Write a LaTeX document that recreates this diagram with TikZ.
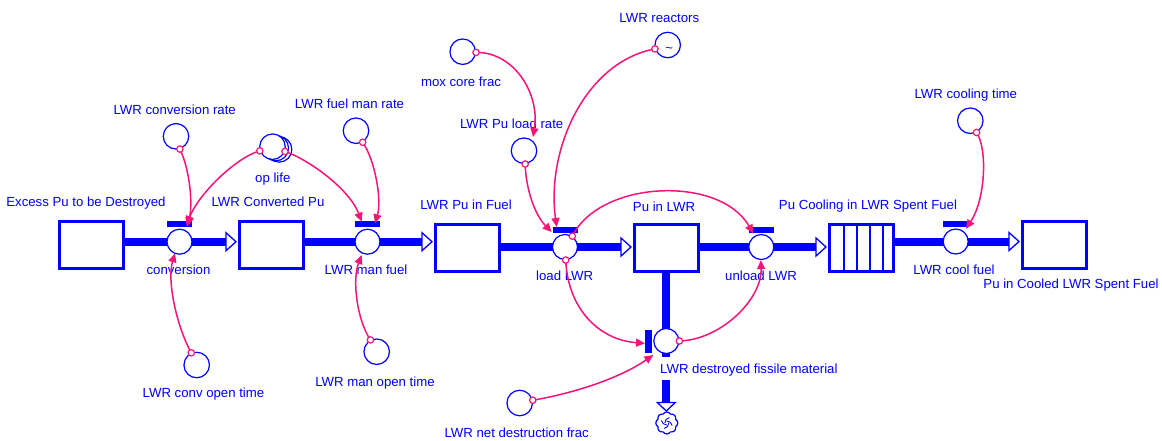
\documentclass[tikz,border=0pt]{standalone}
\usepackage{fontspec}
\setmainfont{Liberation Sans}
\usetikzlibrary{arrows.meta,shapes.symbols,calc}
\definecolor{vblue}{RGB}{0,0,255}
\definecolor{vpink}{RGB}{245,20,120}
\begin{document}
\begin{tikzpicture}[x=1pt,y=-1pt,
  lbl/.style={text=vblue,font=\fontsize{13.2}{15}\selectfont,inner sep=0,anchor=base},
  lblw/.style={text=vblue,font=\fontsize{13.2}{15}\selectfont,inner sep=0,anchor=base west},
  stock/.style={draw=vblue,line width=3,minimum width=64,minimum height=47,inner sep=0,fill=white},
  aux/.style={circle,draw=vblue,line width=1.2,minimum size=25.5,inner sep=0,fill=white},
  valve/.style={circle,draw=vblue,line width=1.2,minimum size=25,inner sep=0,fill=white},
  pipe/.style={draw=vblue,line width=8},
  pipehead/.style={draw=vblue,fill=white,line width=1.3,line join=miter},
  conn/.style={draw=vpink,line width=1.5,-{Triangle[length=9,width=8]}},
  tailc/.style={draw=vpink,line width=1.2,fill=white},
  vbar/.style={fill=vblue}
]
\fill[white] (0,0) rectangle (1162,440);
\useasboundingbox (0,0) rectangle (1162,440);

% stocks
\node[stock] (ex) at (91.5,245) {};
\node[stock] (lcp) at (271,245) {};
\node[stock] (lpf) at (467,247.5) {};
\node[stock] (pil) at (666,247.5) {};
\node[stock] (pcs) at (861,247.5) {};
\node[stock] (pcl) at (1054,245) {};

% valves (coordinates first)
\coordinate (conv) at (179.5,241.7);
\coordinate (manf) at (367.5,241.7);
\coordinate (load) at (565,247);
\coordinate (unload) at (761.3,247);
\coordinate (cool) at (955.7,241.5);
\coordinate (destr) at (666.3,341);

% pipes
\draw[pipe] (ex.east |- conv) -- ([shift={(-11.5,0)}]conv -| lcp.west);
\draw[pipe] (lcp.east |- manf) -- ([shift={(-11.5,0)}]manf -| lpf.west);
\draw[pipe] (lpf.east |- load) -- ([shift={(-11.5,0)}]load -| pil.west);
\draw[pipe] (pil.east |- unload) -- ([shift={(-11.5,0)}]unload -| pcs.west);
\draw[pipe] (pcs.east |- cool) -- ([shift={(-11.5,0)}]cool -| pcl.west);
\draw[pipe] (pil.south -| destr) -- ([shift={(0,16)}]destr);
\draw[pipe] ([shift={(0,39)}]destr) -- ([shift={(0,62)}]destr);

% pipe heads
\foreach \v/\s in {conv/lcp, manf/lpf, load/pil, unload/pcs, cool/pcl}{
  \draw[pipehead] ([shift={(-11.5,-9)}]\v -| \s.west) -- ([shift={(-1.5,0)}]\v -| \s.west) -- ([shift={(-11.5,9)}]\v -| \s.west) -- cycle;
}
\draw[pipehead] ([shift={(-9,61.5)}]destr) -- ([shift={(0,70)}]destr) -- ([shift={(9,61.5)}]destr) -- cycle;

% redraw stocks on top
\node[stock] at (ex) {};
\node[stock] at (lcp) {};
\node[stock] at (lpf) {};
\node[stock] at (pil) {};
\node[stock] at (pcs) {};
\node[stock] at (pcl) {};
\foreach \xx in {-17,-4,9,22}{
  \draw[vblue,line width=2.5] ([shift={(\xx,-23.5)}]pcs.center) -- ([shift={(\xx,23.5)}]pcs.center);
}

% cloud sink
\node[cloud, cloud puffs=8, cloud puff arc=120, aspect=1, draw=vblue, line width=1.2, minimum width=22, minimum height=22, inner sep=0, fill=white] (sink) at (666.8,423) {};
\foreach \a in {0,90,180,270}{
  \draw[vblue,line width=0.9] ([shift={(\a:2)}]sink.center) arc[start angle=\a, end angle=\a+80, radius=5.5];
}

% valve circles
\node[valve] (vconv) at (conv) {};
\node[valve] (vmanf) at (manf) {};
\node[valve] (vload) at (load) {};
\node[valve] (vunload) at (unload) {};
\node[valve] (vcool) at (cool) {};
\node[valve] (vdestr) at (destr) {};
\foreach \v in {conv,manf,load,unload,cool}{
  \fill[vbar] ([shift={(-12.5,-20.5)}]\v) rectangle ([shift={(12.5,-14.5)}]\v);
}
\fill[vbar] ([shift={(-21.3,-11)}]destr) rectangle ([shift={(-14.6,12)}]destr);

% auxiliaries
\node[aux] (lcr) at (176,136.3) {};
\node[aux] at (279.1,149.4) {};
\node[aux] at (275.8,148.1) {};
\node[aux] (opl) at (272.5,146.7) {};
\node[aux] (lfmr) at (356,130.7) {};
\node[aux] (lcot) at (196.7,365) {};
\node[aux] (lmot) at (376.7,351.7) {};
\node[aux] (mox) at (462.7,51.7) {};
\node[aux] (lplr) at (524,150.7) {};
\node[aux] (lrx) at (667.7,45) {};
\node[aux] (lct) at (970.3,120.7) {};
\node[aux] (lndf) at (519.7,403) {};
\node[text=vblue,font=\fontsize{13}{13}\selectfont,inner sep=0] (tilde) at ([shift={(1.5,5)}]lrx.center) {\textasciitilde};

% labels
\node[lbl] (t1) at (86,206.7) {Excess Pu to be Destroyed};
\node[lbl] (t2) at (268,206.7) {LWR Converted Pu};
\node[lbl] (t3) at (466,209.7) {LWR Pu in Fuel};
\node[lbl] (t4) at (664,211.7) {Pu in LWR};
\node[lbl] (t5) at (868,209.7) {Pu Cooling in LWR Spent Fuel};
\node[lbl] (t6) at (1071,288.7) {Pu in Cooled LWR Spent Fuel};
\node[lbl] (t7) at (178.5,274.7) {conversion};
\node[lbl] (t8) at (366,274.7) {LWR man fuel};
\node[lbl] (t9) at (564.7,280.7) {load LWR};
\node[lbl] (t10) at (761,280.4) {unload LWR};
\node[lbl] (t11) at (954,274.7) {LWR cool fuel};
\node[lblw] (t12) at (660,373.7) {LWR destroyed fissile material};
\node[lbl] (t13) at (174.7,114) {LWR conversion rate};
\node[lbl] (t14) at (272.8,182) {op life};
\node[lbl] (t15) at (349.5,108.7) {LWR fuel man rate};
\node[lbl] (t16) at (203.5,397.4) {LWR conv open time};
\node[lbl] (t17) at (375,386.4) {LWR man open time};
\node[lbl] (t18) at (461,86.4) {mox core frac};
\node[lbl] (t19) at (511.7,128.7) {LWR Pu load rate};
\node[lbl] (t20) at (659.3,22) {LWR reactors};
\node[lbl] (t21) at (965.8,98.7) {LWR cooling time};
\node[lbl] (t22) at (516.7,437.4) {LWR net destruction frac};

% connectors
\draw[conn] (lcr.-73) .. controls (190,170) and (193,205) .. ([shift={(7.5,-15)}]vconv.center);
\draw[conn] (opl.198) .. controls (235,158) and (198,195) .. ([shift={(7.2,-16.7)}]vconv.center);
\draw[conn] (opl.-21) .. controls (310,160) and (350,190) .. ([shift={(-5.8,-20)}]vmanf.center);
\draw[conn] (lfmr.-60) .. controls (375,160) and (382,200) .. ([shift={(7.5,-18.4)}]vmanf.center);
\draw[conn] (lcot.114) .. controls (176,325) and (167,280) .. ([shift={(-4.5,11.6)}]vconv.center);
\draw[conn] (lmot.118) .. controls (357,320) and (352,280) .. ([shift={(-5.8,13.3)}]vmanf.center);
\draw[conn] (mox.-3) .. controls (515,52) and (540,95) .. ([shift={(9,-13.7)}]lplr.center);
\draw[conn] (lplr.-85) .. controls (526,190) and (535,215) .. ([shift={(-13.3,-15)}]vload.center);
\draw[conn] (lrx.197) .. controls (585,62) and (546,150) .. ([shift={(-8.3,-20)}]vload.center);
\draw[conn] (vload.56) .. controls (600,180) and (720,175) .. ([shift={(-8,-13.4)}]vunload.center);
\draw[conn] (vload.-87) .. controls (568,310) and (600,340) .. ([shift={(-21.3,2.3)}]vdestr.center);
\draw[conn] (vdestr.0) .. controls (720,340) and (762,300) .. (vunload.-92);
\draw[conn] (lndf.12) .. controls (575,393) and (620,378) .. ([shift={(-13,14)}]vdestr.center);
\draw[conn] (lct.-62) .. controls (988,150) and (985,200) .. ([shift={(10.3,-12.7)}]vcool.center);

% tail markers
\foreach \p in {lcr.-73, opl.198, opl.-21, lfmr.-60, lcot.114, lmot.118, mox.-3, lplr.-85, lrx.197, vload.56, vload.-87, vdestr.0, lndf.12, lct.-62}{
  \draw[tailc] (\p) circle[radius=3.2];
}
\end{tikzpicture}
\end{document}
